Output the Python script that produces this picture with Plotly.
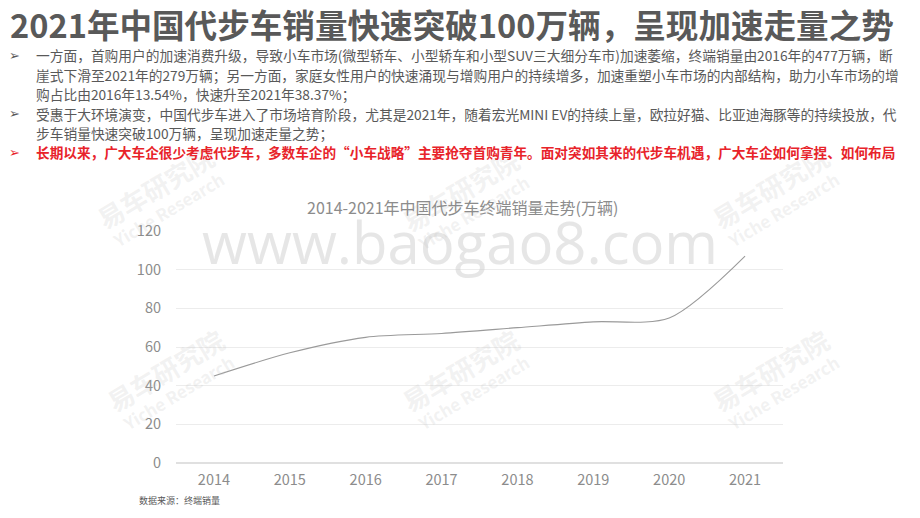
import plotly.graph_objects as go

years = ["2014", "2015", "2016", "2017", "2018", "2019", "2020", "2021"]
sales = [45, 57, 65, 67, 70, 73, 75, 107]
y_ticks = [0, 20, 40, 60, 80, 100, 120]

title_text = "2021年中国代步车销量快速突破100万辆，呈现加速走量之势"
bullet_lines = [
    ("➢", "一方面，首购用户的加速消费升级，导致小车市场(微型轿车、小型轿车和小型SUV三大细分车市)加速萎缩，终端销量由2016年的477万辆，断"),
    ("", "崖式下滑至2021年的279万辆；另一方面，家庭女性用户的快速涌现与增购用户的持续增多，加速重塑小车市场的内部结构，助力小车市场的增"),
    ("", "购占比由2016年13.54%，快速升至2021年38.37%；"),
    ("➢", "受惠于大环境演变，中国代步车进入了市场培育阶段，尤其是2021年，随着宏光MINI EV的持续上量，欧拉好猫、比亚迪海豚等的持续投放，代"),
    ("", "步车销量快速突破100万辆，呈现加速走量之势；"),
]
red_line = "长期以来，广大车企很少考虑代步车，多数车企的“小车战略”主要抢夺首购青年。面对突如其来的代步车机遇，广大车企如何拿捏、如何布局"
chart_title = "2014-2021年中国代步车终端销量走势(万辆)"
source_text = "数据来源：终端销量"

W, H = 920, 518
L, R, T, B = 176, 137, 231, 55
pw, ph = W - L - R, H - T - B

def px(x):
    return (x - L) / pw

def py(y):
    return (H - B - y) / ph

FONT = "Noto Sans CJK SC"
fig = go.Figure()
fig.add_trace(go.Scatter(
    x=years, y=sales, mode="lines",
    line=dict(color="#9a9a9a", width=1.1, shape="spline", smoothing=0.8),
    hoverinfo="skip", showlegend=False,
))

ann = []
# watermarks
ann.append(dict(text="www.baogao8.com", x=px(460), y=py(241), xanchor="center", yanchor="middle",
                showarrow=False, font=dict(family="Open Sans", size=58, color="rgba(205,205,205,0.5)")))
for (wx, wy) in [(160, 195), (465, 198), (775, 195), (170, 378), (465, 378), (775, 378)]:
    ann.append(dict(text="<b><span style='font-size:26px'>易车研究院</span><br>Yiche Research</b>",
                    x=px(wx), y=py(wy), xanchor="center", yanchor="middle", showarrow=False,
                    textangle=-31, font=dict(family=FONT, size=17, color="rgba(190,190,190,0.2)")))
# title
ann.append(dict(text="<b>" + title_text + "</b>", x=px(8), y=py(23), xanchor="left", yanchor="middle",
                showarrow=False, font=dict(family=FONT, size=32.6, color="#595959")))
ys = [55, 75, 94, 114, 133]
for (sym, txt), yy in zip(bullet_lines, ys):
    if sym:
        ann.append(dict(text=sym, x=px(7), y=py(yy), xanchor="left", yanchor="middle", showarrow=False,
                        font=dict(family="DejaVu Sans", size=13, color="#595959")))
    ann.append(dict(text=txt, x=px(34), y=py(yy), xanchor="left", yanchor="middle", showarrow=False,
                    font=dict(family=FONT, size=13.72, color="#595959")))
ann.append(dict(text="➢", x=px(7), y=py(152), xanchor="left", yanchor="middle", showarrow=False,
                font=dict(family="DejaVu Sans", size=13, color="#e8232a")))
ann.append(dict(text="<b>" + red_line + "</b>", x=px(34), y=py(152), xanchor="left", yanchor="middle",
                showarrow=False, font=dict(family=FONT, size=13.65, color="#e8232a")))
ann.append(dict(text=chart_title, x=px(462), y=py(207), xanchor="center", yanchor="middle", showarrow=False,
                font=dict(family=FONT, size=16, color="#8c8c8c")))
ann.append(dict(text=source_text, x=px(137), y=py(500), xanchor="left", yanchor="middle", showarrow=False,
                font=dict(family=FONT, size=9, color="#595959")))
for a in ann:
    a.setdefault("xref", "paper")
    a.setdefault("yref", "paper")

fig.update_layout(
    width=W, height=H,
    margin=dict(l=L, r=R, t=T, b=B),
    paper_bgcolor="white", plot_bgcolor="white",
    annotations=ann,
    xaxis=dict(type="category", range=[-0.5, 7.5], showgrid=False, showline=False, zeroline=False,
               ticks="", tickfont=dict(family=FONT, size=14.5, color="#8c8c8c"), ticklabelstandoff=6),
    yaxis=dict(range=[0, 120], tickvals=y_ticks, showgrid=True, gridcolor="#ececec", gridwidth=1,
               zeroline=True, zerolinecolor="#e0e0e0", showline=False, ticks="",
               tickfont=dict(family=FONT, size=14.5, color="#8c8c8c"), ticklabelstandoff=14),
)
fig.write_html("out.html", config={"displayModeBar": False},
               post_script="document.body.style.margin='0';document.body.style.overflow='hidden';")
